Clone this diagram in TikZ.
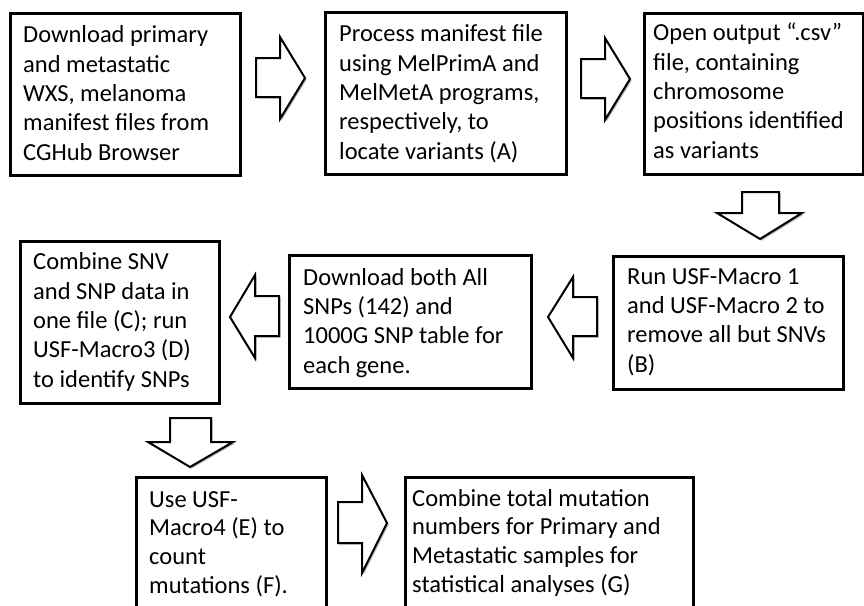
\documentclass[tikz,border=0pt]{standalone}
\usepackage{fontspec}
\setmainfont{Carlito}
\newcommand\blkarrow[1]{\fill[black!30,shift={(1.6,1.6)}] #1; \draw[blk] #1;}
\begin{document}
\begin{tikzpicture}[x=1pt,y=-1pt,
  box/.style={draw=black,line width=2.5pt,fill=white,inner sep=0pt,anchor=north west},
  txt/.style={anchor=base west,align=left,inner sep=0pt,font=\fontsize{24.5}{29.3}\selectfont},
  txtb/.style={txt,font=\fontsize{24.5}{28.6}\selectfont},
  blk/.style={draw=black,line width=2pt,fill=white,line join=miter}]
\useasboundingbox (0,0) rectangle (864,605);
% boxes
\node[box,minimum width=230pt,minimum height=162pt] (b1) at (9,12) {};
\node[box,minimum width=241pt,minimum height=162pt] (b2) at (324,11) {};
\node[box,minimum width=219pt,minimum height=161pt] (b3) at (643,12) {};
\node[box,minimum width=230pt,minimum height=133pt] (bB) at (612,255) {};
\node[box,minimum width=242pt,minimum height=133pt] (bD) at (288,254) {};
\node[box,minimum width=199pt,minimum height=162pt] (bC) at (19,240) {};
\node[box,minimum width=190pt,minimum height=140pt] (bE) at (135,476) {};
\node[box,minimum width=288pt,minimum height=140pt] (bG) at (404,476) {};
% texts (anchored at the baseline of their last line)
\node[txt] (t1) at (23,160) {Download primary\\and metastatic\\WXS, melanoma\\manifest files from\\CGHub Browser};
\node[txt] (t2) at (339,159) {Process manifest file\\using MelPrimA and\\MelMetA programs,\\respectively, to\\locate variants (A)};
\node[txt] (t3) at (653,158) {Open output “.csv”\\file, containing\\chromosome\\positions identified\\as variants};
\node[txt] (tB) at (627,372) {Run USF-Macro 1\\and USF-Macro 2 to\\remove all but SNVs\\(B)};
\node[txt] (tD) at (303,373) {Download both All\\SNPs (142) and\\1000G SNP table for\\each gene.};
\node[txt] (tC) at (33,387) {Combine SNV\\and SNP data in\\one file (C); run\\USF-Macro3 (D)\\to identify SNPs};
\node[txtb] (tE) at (149,593) {Use USF-\\Macro4 (E) to\\count\\mutations (F).};
\node[txtb] (tG) at (412,592) {Combine total mutation\\numbers for Primary and\\Metastatic samples for\\statistical analyses (G)};
% block arrows
\blkarrow{(256,58) -- (280,58) -- (280,37) -- (305,78) -- (280,119) -- (280,97) -- (256,97) -- cycle}
\blkarrow{(581,59) -- (605,59) -- (605,38) -- (630,79) -- (605,120) -- (605,98) -- (581,98) -- cycle}
\blkarrow{(742,192) -- (779,192) -- (779,213) -- (802,213) -- (760,239) -- (717,213) -- (742,213) -- cycle}
\blkarrow{(597,297) -- (573,297) -- (573,277) -- (548,317) -- (573,358) -- (573,336) -- (597,336) -- cycle}
\blkarrow{(279,296) -- (255,296) -- (255,275) -- (230,317) -- (255,358) -- (255,336) -- (279,336) -- cycle}
\blkarrow{(170,418) -- (211,418) -- (211,442) -- (233,442) -- (190,467) -- (148,442) -- (170,442) -- cycle}
\blkarrow{(338,502) -- (362,502) -- (362,475) -- (387,523) -- (362,573) -- (362,543) -- (338,543) -- cycle}
\end{tikzpicture}
\end{document}
